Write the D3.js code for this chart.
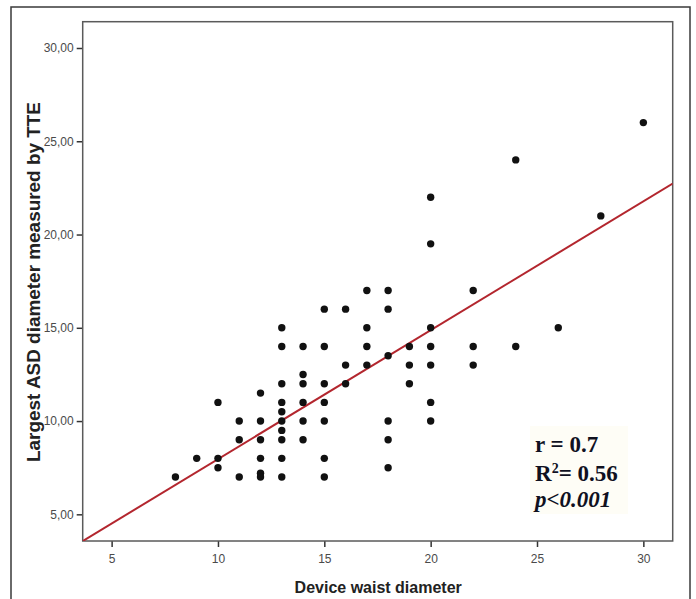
<!DOCTYPE html>
<html>
<head>
<meta charset="utf-8">
<script src="https://cdn.jsdelivr.net/npm/d3@7"></script>
<style>
  body { margin: 0; background: #fff; }
  svg { display: block; }
</style>
</head>
<body>
<svg width="696" height="599"></svg>
<script>
// device waist diameter (x) and largest ASD by TTE (y)
const waist = [
  8,
  9,
  10, 10, 10,
  11, 11, 11,
  12, 12, 12, 12, 12, 12,
  13, 13, 13, 13, 13, 13, 13, 13, 13, 13,
  14, 14, 14, 14, 14, 14,
  15, 15, 15, 15, 15, 15, 15,
  16, 16, 16,
  17, 17, 17, 17,
  18, 18, 18, 18, 18, 18,
  19, 19, 19,
  20, 20, 20, 20, 20, 20, 20,
  22, 22, 22,
  24, 24,
  26,
  28,
  30
]
const asd = [
  7,
  8,
  11, 8, 7.5,
  10, 9, 7,
  11.5, 10, 9, 8, 7.2, 7,
  15, 14, 12, 11, 10.5, 10, 9.5, 9, 8, 7,
  14, 12.5, 12, 11, 10, 9,
  16, 14, 12, 11, 10, 8, 7,
  16, 13, 12,
  17, 15, 14, 13,
  17, 16, 13.5, 10, 9, 7.5,
  14, 13, 12,
  22, 19.5, 15, 14, 13, 11, 10,
  17, 14, 13,
  24, 14,
  15,
  21,
  26
]
const xTicks = [5, 10, 15, 20, 25, 30]
const yTicks = [5, 10, 15, 20, 25, 30]
const fit = { intercept: 1.05, slope: 0.691 }
const stats = ["r = 0.7", "R²= 0.56", "p<0.001"]

const points = waist.map((v, i) => ({ x: v, y: asd[i] }))

const plotL = 82.7, plotR = 672.7, plotT = 21.7, plotB = 541

const x = d3.scaleLinear().domain([3.64, 31.38]).range([plotL, plotR])
const y = d3.scaleLinear().domain([3.57, 31.41]).range([plotB, plotT])

const svg = d3.select("svg")

// outer frame
svg.append("rect")
    .attr("x", 11).attr("y", 7)
    .attr("width", 679).attr("height", 620)
    .style("fill", "none")
    .style("stroke", "#3a3a3a")
    .style("stroke-width", 1.5)

svg.append("defs").append("clipPath").attr("id", "plot")
    .append("rect")
    .attr("x", plotL).attr("y", plotT)
    .attr("width", plotR - plotL).attr("height", plotB - plotT)

// axes
const fmt = d => d.toFixed(2).replace(".", ",")

const gy = svg.append("g")
    .attr("transform", `translate(${plotL},0)`)
    .call(d3.axisLeft(y).tickValues(yTicks).tickFormat(fmt).tickSize(6).tickPadding(3))
const gx = svg.append("g")
    .attr("transform", `translate(0,${plotB})`)
    .call(d3.axisBottom(x).tickValues(xTicks).tickSize(6).tickPadding(7))

;[gx, gy].forEach(g => {
    g.select(".domain").remove()
    g.selectAll(".tick line").style("stroke", "#333").style("stroke-width", 1.5)
    g.selectAll(".tick text")
        .style("font-family", "'Liberation Sans', Arial, sans-serif")
        .style("font-size", "12px")
        .style("fill", "#4a4a4a")
})

// plot frame
svg.append("rect")
    .attr("x", plotL).attr("y", plotT)
    .attr("width", plotR - plotL).attr("height", plotB - plotT)
    .style("fill", "none")
    .style("stroke", "#5a5a5a")
    .style("stroke-width", 1.5)

// fit line
svg.append("line")
    .attr("clip-path", "url(#plot)")
    .attr("x1", x(x.domain()[0]))
    .attr("y1", y(fit.intercept + fit.slope * x.domain()[0]))
    .attr("x2", x(x.domain()[1]))
    .attr("y2", y(fit.intercept + fit.slope * x.domain()[1]))
    .style("stroke", "#b3262e")
    .style("stroke-width", 2)

// points
svg.append("g")
    .selectAll("circle")
    .data(points)
    .join("circle")
    .attr("cx", d => x(d.x))
    .attr("cy", d => y(d.y))
    .attr("r", 3.7)
    .style("fill", "#111")

// titles
svg.append("text")
    .text("Device waist diameter")
    .attr("x", (plotL + plotR) / 2 + 0.5)
    .attr("y", 593)
    .attr("text-anchor", "middle")
    .style("font-family", "'Liberation Sans', Arial, sans-serif")
    .style("font-weight", "bold")
    .style("font-size", "16px")
    .style("fill", "#222")

svg.append("text")
    .text("Largest ASD diameter measured by TTE")
    .attr("transform", "translate(40,282) rotate(-90)")
    .attr("text-anchor", "middle")
    .attr("textLength", 360)
    .attr("lengthAdjust", "spacingAndGlyphs")
    .style("font-family", "'Liberation Sans', Arial, sans-serif")
    .style("font-weight", "bold")
    .style("font-size", "17.5px")
    .style("fill", "#222")

// stats box
svg.append("rect")
    .attr("x", 530).attr("y", 426)
    .attr("width", 98).attr("height", 88)
    .style("fill", "#fefdf6")

const st = svg.append("text")
    .attr("x", 535)
    .style("font-family", "'Liberation Serif', 'Times New Roman', serif")
    .style("font-weight", "bold")
    .style("font-size", "23px")
    .style("fill", "#10111f")

st.append("tspan").attr("x", 535).attr("y", 452).text(stats[0])
const r2 = st.append("tspan").attr("x", 535).attr("y", 481)
r2.append("tspan").text("R")
r2.append("tspan").attr("dy", -8).style("font-size", "14px").text("2")
r2.append("tspan").attr("dy", 8).text("= 0.56")
st.append("tspan").attr("x", 535).attr("y", 507).style("font-style", "italic").text(stats[2])
</script>
</body>
</html>
